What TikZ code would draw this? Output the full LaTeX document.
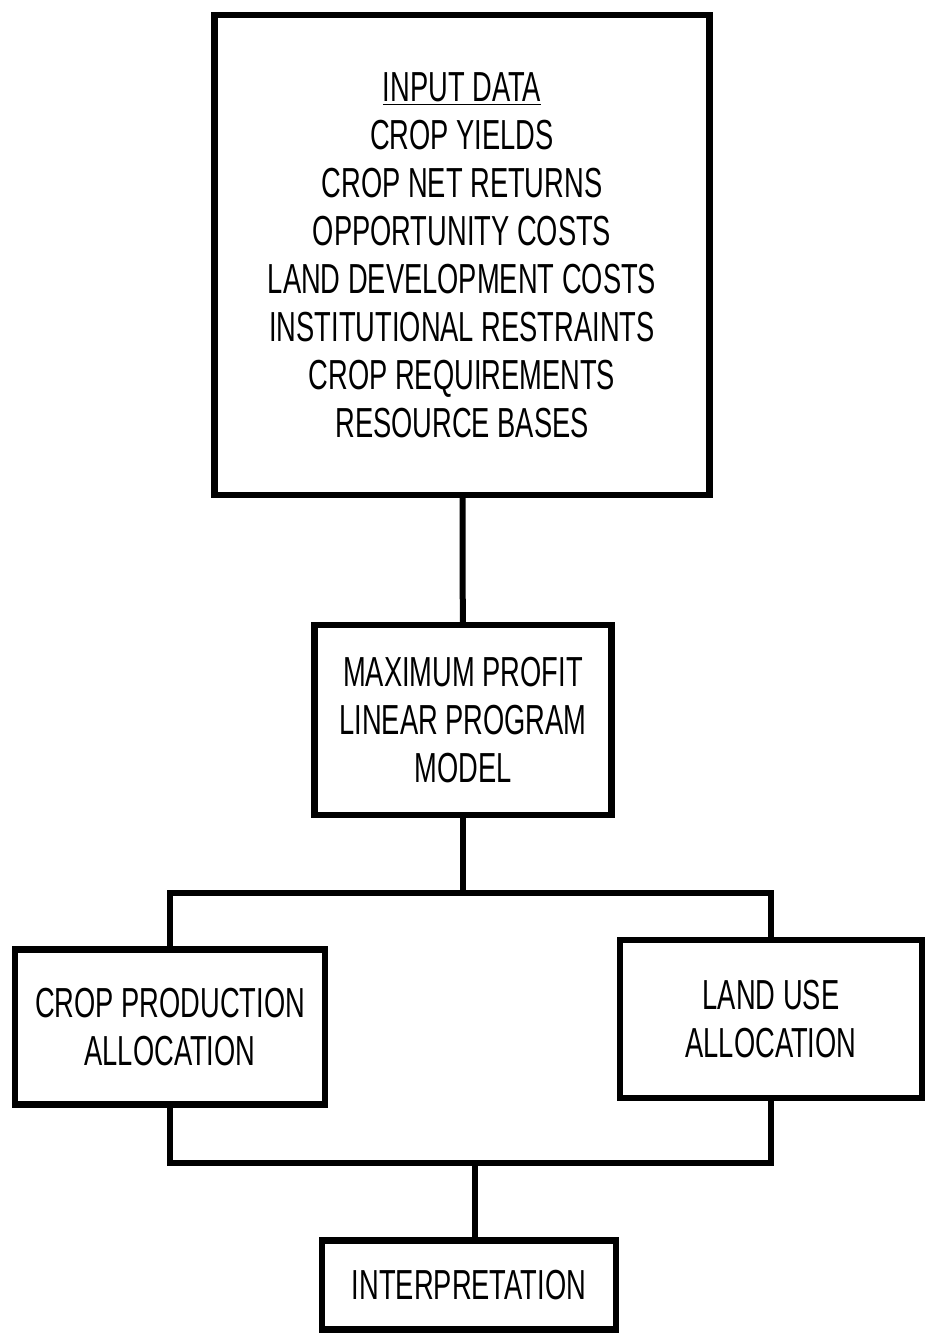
\documentclass[tikz,border=0pt]{standalone}
\usepackage{fontspec}
\setmainfont{Liberation Sans}[FakeStretch=0.65]
\usetikzlibrary{positioning}
\tikzset{
  flowbox/.style={draw=black, line width=3.2pt, align=center, inner sep=0pt,
    font=\fontsize{21}{24}\selectfont},
  flowline/.style={line width=3pt, line join=miter}
}
\begin{document}
\begin{tikzpicture}[x=0.5pt,y=-0.5pt]
\useasboundingbox (0,0) rectangle (926,1336);
\node[flowbox, minimum width=247.5pt, minimum height=240pt] (input) at (462,255) {\underline{INPUT DATA}\\CROP YIELDS\\CROP NET RETURNS\\OPPORTUNITY COSTS\\LAND DEVELOPMENT COSTS\\INSTITUTIONAL RESTRAINTS\\CROP REQUIREMENTS\\RESOURCE BASES};
\node[flowbox, minimum width=148.5pt, minimum height=95pt] (model) at (463,720) {MAXIMUM PROFIT\\LINEAR PROGRAM\\MODEL};
\node[flowbox, minimum width=155pt, minimum height=77.5pt] (crop) at (170,1027) {CROP PRODUCTION\\ALLOCATION};
\node[flowbox, minimum width=151pt, minimum height=79pt] (land) at (771,1019) {LAND USE\\ALLOCATION};
\node[flowbox, minimum width=147pt, minimum height=44.5pt] (interp) at (469,1285) {INTERPRETATION};
\coordinate (split) at (465,893);
\coordinate (join) at (475,1163);
\draw[flowline] (input) -- (model);
\draw[flowline] (model.south) -- (model.south |- split);
\draw[flowline] (crop.north) |- (split) -| (land.north);
\draw[flowline] (crop.south) |- (join) -| (land.south);
\draw[flowline] (join) -- (join |- interp.north);
\end{tikzpicture}
\end{document}
